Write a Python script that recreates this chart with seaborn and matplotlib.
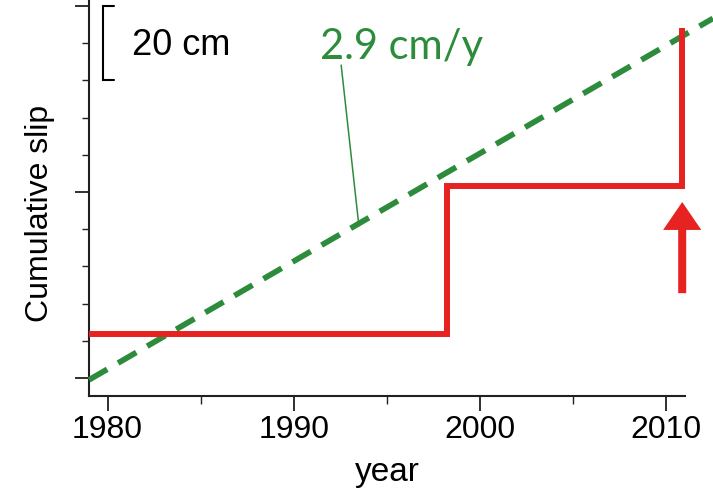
import matplotlib
matplotlib.use("Agg")
import matplotlib.pyplot as plt
from matplotlib import font_manager
import seaborn as sns
import pandas as pd

# --- data -------------------------------------------------------------
# cumulative slip history (cm): step-wise slip events
slip_years = [1979.0, 1998.2, 2010.85]
slip_cm = [11.7, 51.7, 94.0]

# long-term plate-rate reference line
rate_cm_per_yr = 2.9
rate_years = [1979.0, 2012.5]
rate_start_cm = -0.5

# arrow marking the latest event
arrow_year = 2010.85
arrow_from_cm, arrow_to_cm = 22.8, 47.3

x_major = [1980, 1990, 2000, 2010]
x_minor = [1985, 1995, 2005]
y_major = [0, 50, 100]
y_minor = [10, 20, 30, 40, 60, 70, 80, 90]

RED = "#e62321"
GREEN = "#2d8c3c"
INK = "#231f20"

sns.set_theme(style="ticks")
names = {f.name for f in font_manager.fontManager.ttflist}
narrow = "Liberation Sans Narrow" if "Liberation Sans Narrow" in names else None
plt.rcParams["font.family"] = ["Liberation Sans", "DejaVu Sans"]

fig = plt.figure(figsize=(7.13, 4.88), dpi=100)
ax = fig.add_axes([89 / 713, 92 / 488, 596 / 713, 396 / 488])

rate_df = pd.DataFrame({
    "year": rate_years,
    "slip": [rate_start_cm + rate_cm_per_yr * (y - rate_years[0]) for y in rate_years],
})
slip_df = pd.DataFrame({"year": slip_years, "slip": slip_cm})

sns.lineplot(data=rate_df, x="year", y="slip", ax=ax, color=GREEN, lw=4.1,
             clip_on=False, zorder=3)
rate_line = ax.lines[-1]
rate_line.set_dashes((3.7, 2.2))
rate_line.set_dash_capstyle("butt")

sns.lineplot(data=slip_df, x="year", y="slip", ax=ax, color=RED, lw=4.3,
             drawstyle="steps-post", zorder=4)
slip_line = ax.lines[-1]
slip_line.set_solid_joinstyle("miter")
slip_line.set_solid_capstyle("butt")

ax.arrow(arrow_year, arrow_from_cm, 0, arrow_to_cm - arrow_from_cm,
         width=0.43, head_width=2.05, head_length=7.5,
         length_includes_head=True, color=RED, lw=0, zorder=5, clip_on=False)

ax.set_xlim(1979, 2011)
ax.set_ylim(-4.84, 101.6)

ax.set_xticks(x_major)
ax.set_xticks(x_minor, minor=True)
ax.set_yticks(y_major)
ax.set_yticks(y_minor, minor=True)
ax.set_yticklabels([])
ax.tick_params(axis="x", which="major", length=11, width=1.3, color=INK,
               labelsize=24 if narrow else 23, pad=2.5, labelcolor="black")
ax.tick_params(axis="x", which="minor", length=5.8, width=1.0, color=INK)
ax.tick_params(axis="y", which="major", length=10, width=1.3, color=INK)
ax.tick_params(axis="y", which="minor", length=5, width=1.0, color=INK)
if narrow:
    for lab in ax.get_xticklabels():
        lab.set_fontfamily([narrow, "DejaVu Sans"])

for side in ("top", "right"):
    ax.spines[side].set_visible(False)
for side in ("left", "bottom"):
    ax.spines[side].set_linewidth(1.5)
    ax.spines[side].set_color(INK)

ax.set_xlabel("year", fontsize=24, color="black")
ax.xaxis.set_label_coords(0.5, -0.155)
ax.set_ylabel("Cumulative slip", fontsize=23, color="black")
ax.yaxis.set_label_coords(-0.057, 0.46)

# 20 cm scale bar
ax.plot([1980.35, 1979.77, 1979.77, 1980.35], [100, 100, 80, 80],
        color="black", lw=1.5, solid_joinstyle="miter", clip_on=False)
ax.text(1981.33, 86.8, "20 cm", fontsize=26, color="black",
        ha="left", va="baseline")

# rate label with leader line
ax.plot([1992.54, 1993.49], [84.1, 40.9], color=GREEN, lw=1.1)
ax.text(1991.38, 85.75, f"{rate_cm_per_yr} cm/y", fontsize=30, color=GREEN,
        family=["Lato", "DejaVu Sans"], ha="left", va="baseline")

fig.savefig("out.png", dpi=100)
